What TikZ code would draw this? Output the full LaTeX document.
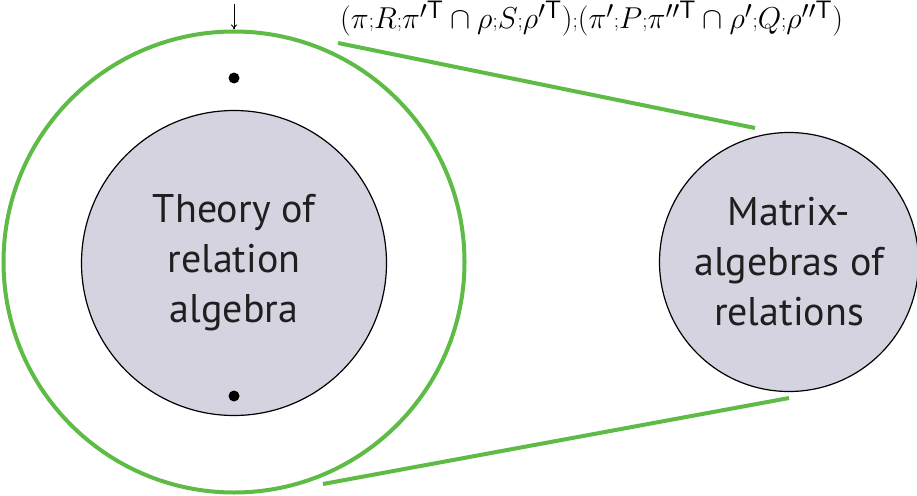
\documentclass[tikz,border=0pt]{standalone}
\usepackage{fontspec}
\newfontfamily\labelfont{PT Sans}
\usetikzlibrary{arrows.meta}
\definecolor{discgray}{HTML}{D6D3E0}
\definecolor{zoomgreen}{HTML}{5DBB46}
% small composition symbol for relations
\newcommand{\rcomp}{\mathord{\raisebox{0.1ex}{$\scriptscriptstyle;$}}}
\begin{document}
\begin{tikzpicture}[x=1pt,y=-1pt,
  disc/.style={circle,draw=black,line width=1.2pt,fill=discgray,inner sep=0pt},
  ring/.style={draw=zoomgreen,line width=4pt},
  zoomline/.style={draw=zoomgreen,line width=4pt},
  pt/.style={circle,fill=black,inner sep=0pt,minimum size=11pt},
  disctext/.style={font=\labelfont\fontsize{40}{50}\selectfont,align=center,text=black!88}]
\useasboundingbox (0,0) rectangle (917,495);
% outer zoom ring and the two discs
\node[circle,ring,minimum size=461pt,inner sep=0pt] (ring) at (234,262) {};
\node[disc,minimum size=305pt] (theory) at (234,263) {};
\node[disctext] at (theory.center) {Theory of\\relation\\algebra};
\node[disc,minimum size=259pt] (matrix) at (789,262) {};
\node[disctext] at (matrix.center) {Matrix-\\algebras of\\relations};
% marked points
\node[pt] (p1) at (234,78) {};
\node[pt] (p2) at (234,396) {};
% zoom connectors
\coordinate (ua) at (338,43);
\coordinate (ub) at (755,128);
\coordinate (la) at (323,484);
\coordinate (lb) at (789,398);
\draw[zoomline] (ua) -- (ub);
\draw[zoomline] (la) -- (lb);
% pointer to the ring and the formula
\coordinate (arrtop) at (234,4);
\draw[-{To[length=5pt,width=6pt]},line width=0.8pt] (arrtop) -- (ring.north);
\node[anchor=base west,font=\fontsize{24.88}{30}\selectfont,inner sep=0pt,scale=1.215,transform shape] (formula) at (340,29)
  {$(\pi\rcomp R\rcomp\pi'^{\mathsf{T}}\cap\rho\rcomp S\rcomp\rho'^{\mathsf{T}})\rcomp(\pi'\rcomp P\rcomp\pi''^{\mathsf{T}}\cap\rho'\rcomp Q\rcomp\rho''^{\mathsf{T}})$};
\end{tikzpicture}
\end{document}
